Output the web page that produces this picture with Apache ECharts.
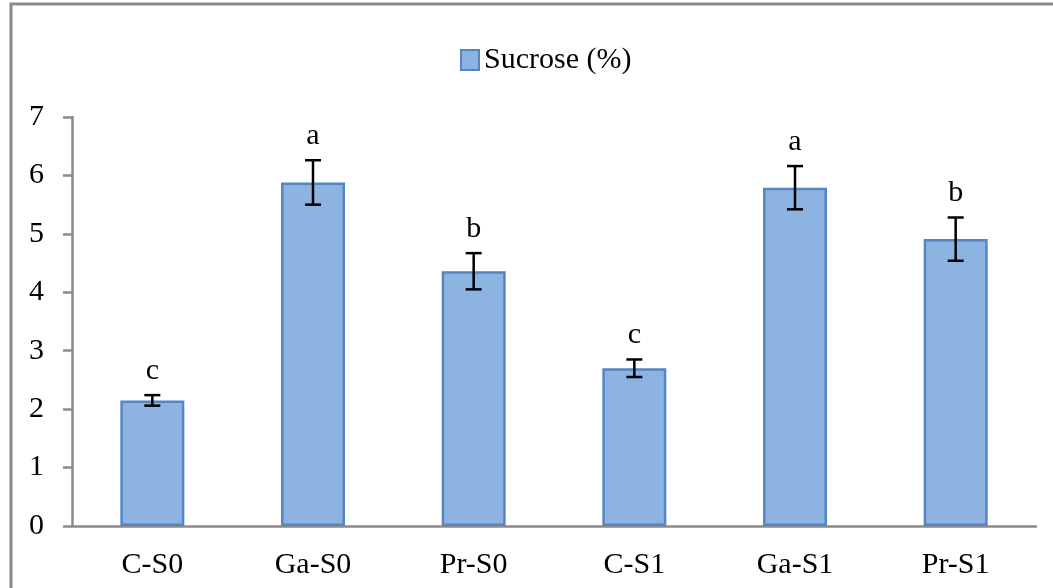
<!DOCTYPE html>
<html>
<head>
<meta charset="utf-8">
<script src="https://cdn.jsdelivr.net/npm/echarts@6/dist/echarts.min.js"></script>
<style>
  html, body { margin: 0; padding: 0; background: #fff; }
  #chart { width: 1053px; height: 588px; }
</style>
</head>
<body>
<div id="chart"></div>
<script>
// treatments on the x axis
const categories = ["C-S0", "Ga-S0", "Pr-S0", "C-S1", "Ga-S1", "Pr-S1"];
// sucrose means (%)
const sucrose = [2.15, 5.88, 4.36, 2.70, 5.79, 4.91];
// error bar half-widths
const errors = [0.09, 0.38, 0.31, 0.15, 0.37, 0.37];
// significance letters
const letters = ["c", "a", "b", "c", "a", "b"];

const font = "'Liberation Serif', 'Times New Roman', serif";
const chart = echarts.init(document.getElementById("chart"));

const option = {
  backgroundColor: "#fff",
  animation: false,
  graphic: [
    {
      type: "rect",
      shape: { x: 11, y: 4, width: 1200, height: 800 },
      style: { fill: "none", stroke: "#8a8a8a", lineWidth: 3 },
      silent: true
    }
  ],
  legend: {
    left: 455,
    top: 40,
    itemWidth: 18,
    itemHeight: 20,
    icon: "rect",
    textStyle: { fontFamily: font, fontSize: 30, color: "#000" },
    data: ["Sucrose (%)"]
  },
  grid: {
    left: 72,
    right: 17,
    top: 117,
    bottom: 62,
    containLabel: false
  },
  xAxis: {
    type: "category",
    data: categories,
    axisLine: { lineStyle: { color: "#8a8a8a", width: 2.5 } },
    axisTick: { show: false },
    axisLabel: { fontFamily: font, fontSize: 30, color: "#000", margin: 24 }
  },
  yAxis: {
    type: "value",
    min: 0,
    max: 7,
    interval: 1,
    splitLine: { show: false },
    axisLine: { show: true, lineStyle: { color: "#8a8a8a", width: 2.5 } },
    axisTick: { show: true, length: 9, lineStyle: { color: "#8a8a8a", width: 2.5 } },
    axisLabel: { fontFamily: font, fontSize: 30, color: "#000", margin: 28 }
  },
  series: [
    {
      name: "Sucrose (%)",
      type: "bar",
      barWidth: 64,
      data: sucrose,
      itemStyle: { color: "#8db3e2", borderColor: "#5585c2", borderWidth: 2.5 }
    },
    {
      name: "err",
      type: "custom",
      silent: true,
      z: 10,
      data: sucrose.map((v, i) => [i, v - errors[i], v + errors[i], letters[i]]),
      renderItem: function (params, api) {
        const x = api.coord([api.value(0), 0])[0];
        const lo = api.coord([api.value(0), api.value(1)])[1];
        const hi = api.coord([api.value(0), api.value(2)])[1];
        const cap = 8;
        const ls = { stroke: "#000", lineWidth: 2.5 };
        return {
          type: "group",
          children: [
            { type: "line", shape: { x1: x, y1: hi, x2: x, y2: lo }, style: ls },
            { type: "line", shape: { x1: x - cap, y1: hi, x2: x + cap, y2: hi }, style: ls },
            { type: "line", shape: { x1: x - cap, y1: lo, x2: x + cap, y2: lo }, style: ls },
            {
              type: "text",
              style: {
                text: letters[params.dataIndex],
                x: x,
                y: hi - 9,
                align: "center",
                verticalAlign: "bottom",
                font: "30px " + font,
                fill: "#000"
              }
            }
          ]
        };
      }
    }
  ]
};

chart.setOption(option);
</script>
</body>
</html>
